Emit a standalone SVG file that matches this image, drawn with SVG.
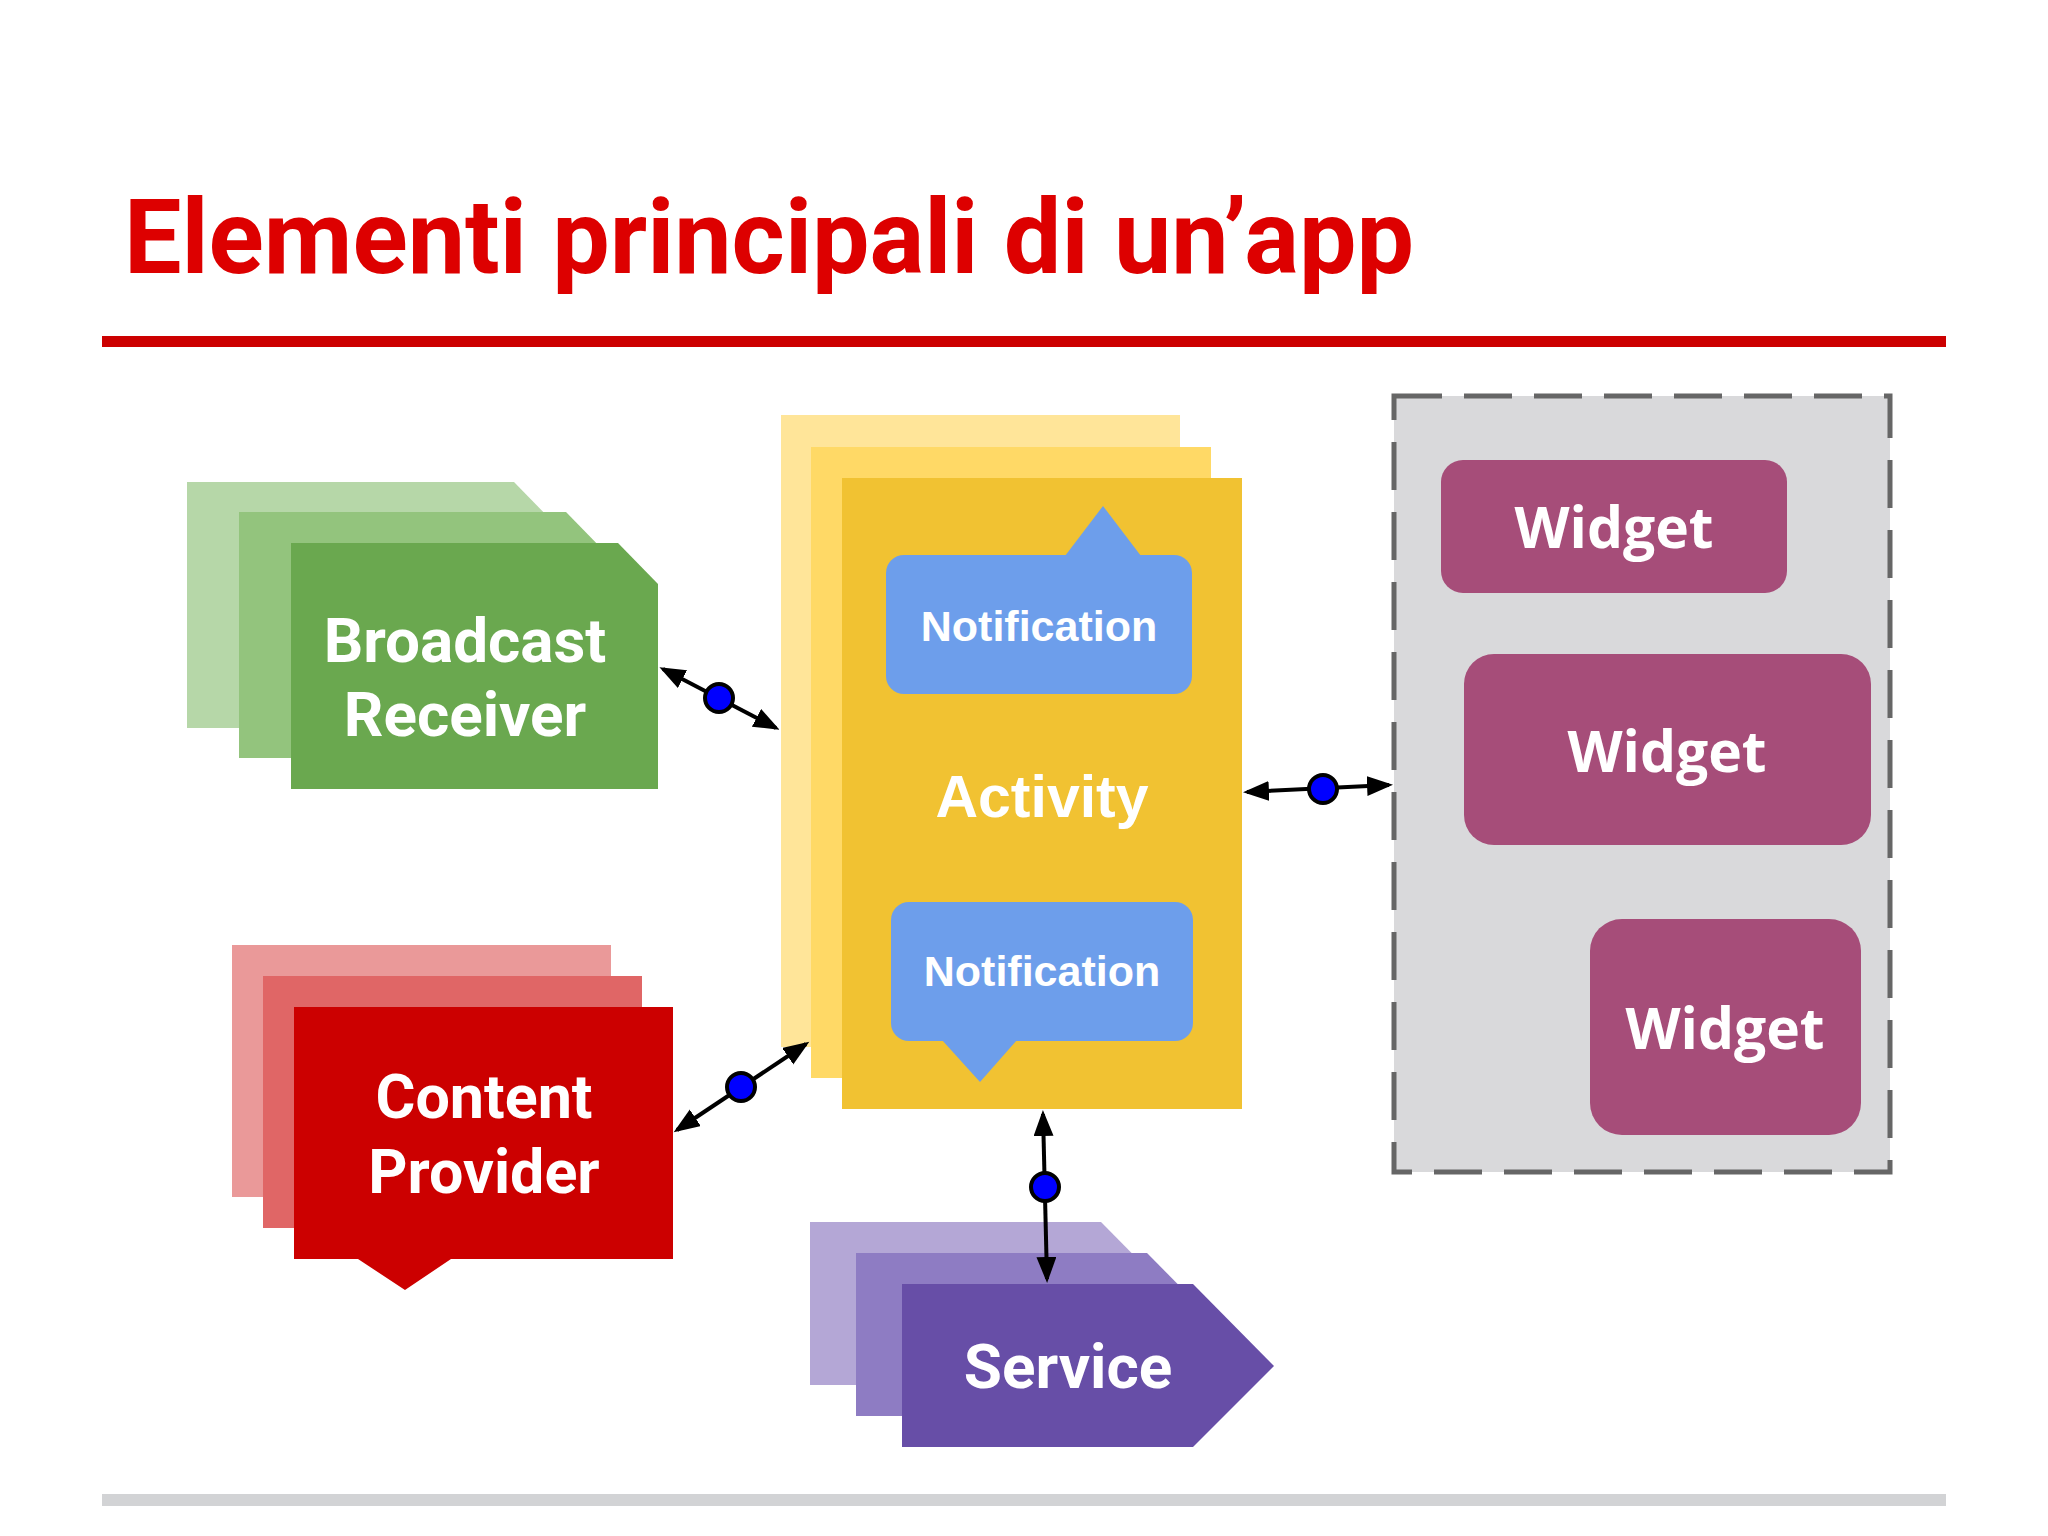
<svg xmlns="http://www.w3.org/2000/svg" width="2048" height="1536" viewBox="0 0 2048 1536">
<defs>
<style>
.lbl{fill:#ffffff;font-family:Roboto,"Liberation Sans",sans-serif;font-weight:700;text-anchor:middle}
.arial{fill:#ffffff;font-family:"Liberation Sans",Arial,sans-serif;font-weight:700;text-anchor:middle}
.wtxt{fill:#ffffff;font-family:"Open Sans","Liberation Sans",sans-serif;font-weight:700;text-anchor:middle;font-size:57px}
.conn{stroke:#000;stroke-width:4;fill:none;marker-start:url(#arr);marker-end:url(#arr)}
.dot{fill:#0000ff;stroke:#000;stroke-width:4}
.widget{fill:#a64d79}
.notif{fill:#6d9eeb}
</style>
<marker id="arr" markerUnits="userSpaceOnUse" markerWidth="30" markerHeight="24" refX="22" refY="10" orient="auto-start-reverse">
<path d="M0,0 L26,10 L0,20 z" fill="#000"/>
</marker>
</defs>
<rect width="2048" height="1536" fill="#ffffff"/>
<text x="124" y="273" font-family="Roboto,'Liberation Sans',sans-serif" font-weight="700" font-size="103" fill="#dd0000" textLength="1290" lengthAdjust="spacingAndGlyphs">Elementi principali di un’app</text>
<rect x="102" y="336" width="1844" height="11" fill="#cc0000"/>
<rect x="102" y="1494" width="1844" height="12" fill="#d2d3d5"/>

<g id="broadcast-receiver">
<polygon points="187,482 514,482 554,523 554,728 187,728" fill="#b6d7a8"/>
<polygon points="239,512 566,512 606,553 606,758 239,758" fill="#93c47d"/>
<polygon points="291,543 618,543 658,584 658,789 291,789" fill="#6aa84f"/>
<text class="lbl" x="465" y="662" font-size="62">Broadcast</text>
<text class="lbl" x="465" y="736" font-size="62">Receiver</text>
</g>

<g id="content-provider">
<rect x="232" y="945" width="379" height="252" fill="#ea9999"/>
<rect x="263" y="976" width="379" height="252" fill="#e06666"/>
<polygon points="294,1007 673,1007 673,1259 451,1259 405,1290 358,1259 294,1259" fill="#cc0000"/>
<text class="lbl" x="484" y="1118" font-size="61">Content</text>
<text class="lbl" x="484" y="1193" font-size="61">Provider</text>
</g>

<g id="service">
<polygon points="810,1222 1101,1222 1182,1304 1101,1385 810,1385" fill="#b4a7d6"/>
<polygon points="856,1253 1147,1253 1228,1335 1147,1416 856,1416" fill="#8e7cc3"/>
<polygon points="902,1284 1193,1284 1274,1366 1193,1447 902,1447" fill="#674ea7"/>
<text class="lbl" x="1068" y="1388" font-size="62">Service</text>
</g>

<g id="activity">
<rect x="781" y="415" width="399" height="632" fill="#ffe599"/>
<rect x="811" y="447" width="400" height="631" fill="#ffd966"/>
<rect x="842" y="478" width="400" height="631" fill="#f1c232"/>
<text class="arial" x="1042" y="817" font-size="59">Activity</text>
</g>

<g id="notification-top">
<rect class="notif" x="886" y="555" width="306" height="139" rx="18"/>
<polygon class="notif" points="1065,556 1103,506 1141,556"/>
<text class="arial" x="1039" y="641" font-size="43">Notification</text>
</g>

<g id="notification-bottom">
<rect class="notif" x="891" y="902" width="302" height="139" rx="18"/>
<polygon class="notif" points="942,1040 980,1082 1017,1040"/>
<text class="arial" x="1042" y="986" font-size="43">Notification</text>
</g>

<g id="widget-container">
<rect x="1394" y="396" width="496" height="776" fill="#d9d9db" stroke="#666666" stroke-width="5" stroke-dasharray="48 22"/>
</g>
<g id="widget-1">
<rect class="widget" x="1441" y="460" width="346" height="133" rx="22"/>
<text class="wtxt" x="1614" y="548">Widget</text>
</g>
<g id="widget-2">
<rect class="widget" x="1464" y="654" width="407" height="191" rx="30"/>
<text class="wtxt" x="1667" y="772">Widget</text>
</g>
<g id="widget-3">
<rect class="widget" x="1590" y="919" width="271" height="216" rx="32"/>
<text class="wtxt" x="1725" y="1049">Widget</text>
</g>

<g id="connectors">
<line class="conn" x1="663" y1="669" x2="776" y2="728"/>
<circle class="dot" cx="719" cy="698" r="14"/>
<line class="conn" x1="677" y1="1130" x2="806" y2="1044"/>
<circle class="dot" cx="741" cy="1087" r="14"/>
<line class="conn" x1="1247" y1="792" x2="1389" y2="785"/>
<circle class="dot" cx="1323" cy="789" r="14"/>
<line class="conn" x1="1043" y1="1114" x2="1047" y2="1279"/>
<circle class="dot" cx="1045" cy="1187" r="14"/>
</g>
</svg>
